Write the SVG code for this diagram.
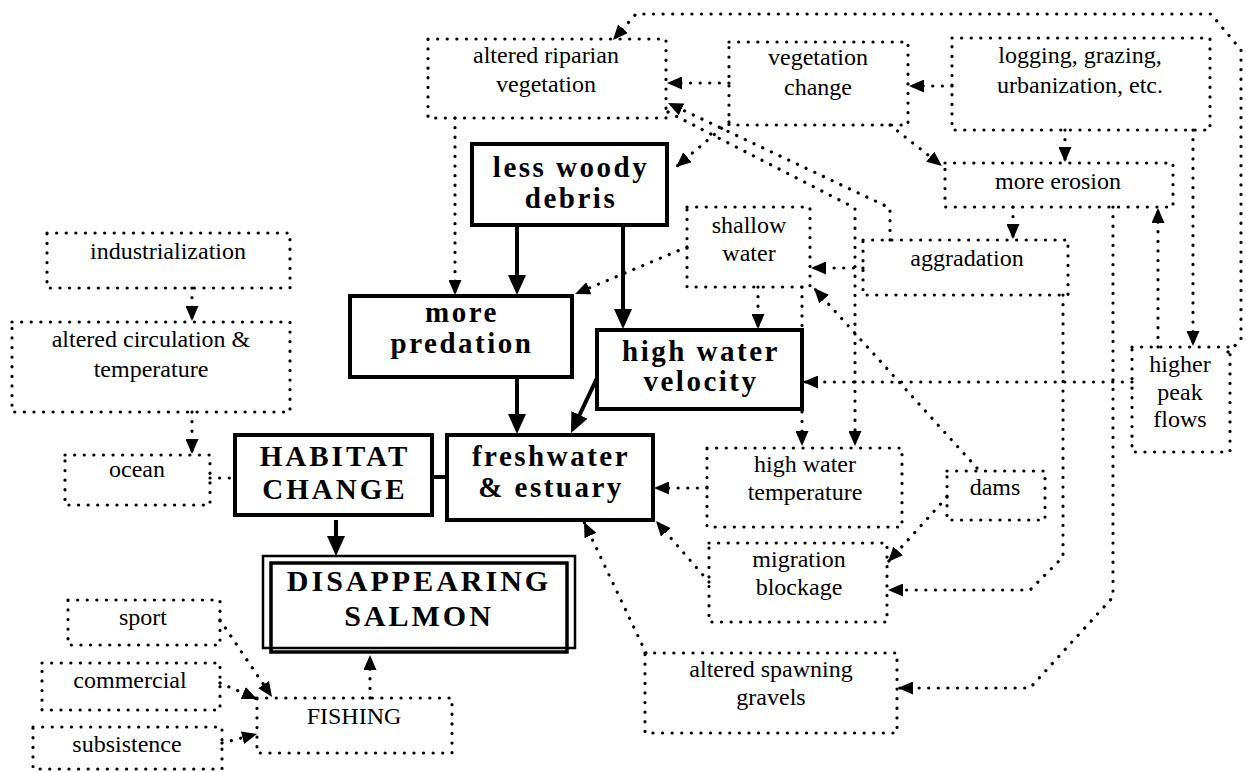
<svg xmlns="http://www.w3.org/2000/svg" width="1246" height="772" viewBox="0 0 1246 772">
<style>
.dot{fill:none;stroke:#000;stroke-width:3.2;stroke-linecap:round;stroke-dasharray:0.1 9.5;}
.sol{fill:none;stroke:#000;stroke-width:4;}
.t{font-family:"Liberation Serif",serif;font-size:24px;text-anchor:middle;fill:#000;}
.b{font-family:"Liberation Serif",serif;font-weight:bold;font-size:29px;letter-spacing:2.5px;text-anchor:middle;fill:#000;}
.B{font-family:"Liberation Serif",serif;font-weight:bold;font-size:29px;letter-spacing:3px;text-anchor:middle;fill:#000;}
.D{font-family:"Liberation Serif",serif;font-weight:bold;font-size:30px;letter-spacing:3px;text-anchor:middle;fill:#000;}
</style>
<defs>
<marker id="ad" markerWidth="15" markerHeight="13" refX="15" refY="6.5" orient="auto" markerUnits="userSpaceOnUse"><path d="M0,0 L15,6.5 L0,13 Z" fill="#000"/></marker>
<marker id="as" markerWidth="20" markerHeight="18" refX="16" refY="9" orient="auto" markerUnits="userSpaceOnUse"><path d="M0,0 L20,9 L0,18 Z" fill="#000"/></marker>
</defs>
<rect width="1246" height="772" fill="#fff"/>

<g id="connectors">
<path class="dot" d="M729,83 L667,83" marker-end="url(#ad)"/>
<path class="dot" d="M952,86 L909,86" marker-end="url(#ad)"/>
<path class="dot" d="M729,122 L676,167" marker-end="url(#ad)"/>
<path class="dot" d="M890,125 L942,166" marker-end="url(#ad)"/>
<path class="dot" d="M1065,130 L1065,162" marker-end="url(#ad)"/>
<path class="dot" d="M455,118 L455,295" marker-end="url(#ad)"/>
<path class="dot" d="M890,240 L890,208 L668,103" marker-end="url(#ad)"/>
<path class="dot" d="M668,112 L855,208 L855,446" marker-end="url(#ad)"/>
<path class="dot" d="M687,247 L575,294" marker-end="url(#ad)"/>
<path class="dot" d="M758,287 L758,329" marker-end="url(#ad)"/>
<path class="dot" d="M802,287 L802,446" marker-end="url(#ad)"/>
<path class="dot" d="M863,268 L811,268" marker-end="url(#ad)"/>
<path class="dot" d="M1013,207 L1013,239" marker-end="url(#ad)"/>
<path class="dot" d="M1158,347 L1158,208" marker-end="url(#ad)"/>
<path class="dot" d="M1193,130 L1193,346" marker-end="url(#ad)"/>
<path class="dot" d="M1132,382 L803,382" marker-end="url(#ad)"/>
<path class="dot" d="M1228,352 L1241,340 L1241,50 L1211,14 L636,14 L613,40" marker-end="url(#ad)"/>
<path class="dot" d="M977,468 L814,288" marker-end="url(#ad)"/>
<path class="dot" d="M947,497 L888,562" marker-end="url(#ad)"/>
<path class="dot" d="M1063,295 L1063,557 L1030,590 L888,590" marker-end="url(#ad)"/>
<path class="dot" d="M1113,207 L1113,597 L1030,688 L898,688" marker-end="url(#ad)"/>
<path class="dot" d="M707,488 L654,488" marker-end="url(#ad)"/>
<path class="dot" d="M709,582 L656,521" marker-end="url(#ad)"/>
<path class="dot" d="M646,653 L584,522" marker-end="url(#ad)"/>
<path class="dot" d="M192,288 L192,321" marker-end="url(#ad)"/>
<path class="dot" d="M192,412 L192,454" marker-end="url(#ad)"/>
<path class="dot" d="M210,478 L235,478"/>
<path class="dot" d="M220,620 L272,697" marker-end="url(#ad)"/>
<path class="dot" d="M220,683 L257,699" marker-end="url(#ad)"/>
<path class="dot" d="M222,743 L257,734" marker-end="url(#ad)"/>
<path class="dot" d="M370,698 L370,655" marker-end="url(#ad)"/>
<path class="sol" d="M432,477 L447,477"/>
<path class="sol" d="M336,520 L336,552" marker-end="url(#as)"/>
<path class="sol" d="M517,225 L517,291" marker-end="url(#as)"/>
<path class="sol" d="M623,225 L623,325" marker-end="url(#as)"/>
<path class="sol" d="M517,377 L517,430" marker-end="url(#as)"/>
<path class="sol" d="M597,378 L572.7,429.4" marker-end="url(#as)"/>
</g>

<g id="riparian"><rect class="dot" x="428" y="39" width="238" height="79"/><text class="t" x="546" y="63">altered riparian</text><text class="t" x="546" y="92">vegetation</text></g>
<g id="vegchange"><rect class="dot" x="729" y="42" width="179" height="83"/><text class="t" x="818" y="65">vegetation</text><text class="t" x="818" y="95">change</text></g>
<g id="logging"><rect class="dot" x="952" y="38" width="258" height="92"/><text class="t" x="1080" y="63">logging, grazing,</text><text class="t" x="1080" y="93">urbanization, etc.</text></g>
<g id="erosion"><rect class="dot" x="945" y="163" width="228" height="44"/><text class="t" x="1058" y="189">more erosion</text></g>
<g id="aggradation"><rect class="dot" x="863" y="240" width="205" height="55"/><text class="t" x="967" y="266">aggradation</text></g>
<g id="shallow"><rect class="dot" x="687" y="207" width="123" height="80"/><text class="t" x="749" y="233">shallow</text><text class="t" x="749" y="261">water</text></g>
<g id="lesswoody"><rect class="sol" x="472" y="144" width="195" height="81" fill="#fff"/><text class="b" x="571" y="177">less woody</text><text class="b" x="571" y="208">debris</text></g>
<g id="predation"><rect class="sol" x="350" y="296" width="222" height="81" fill="#fff"/><text class="b" x="462" y="322">more</text><text class="b" x="462" y="353">predation</text></g>
<g id="velocity"><rect class="sol" x="597" y="330" width="205" height="79" fill="#fff"/><text class="b" x="701" y="361">high water</text><text class="b" x="701" y="391">velocity</text></g>
<g id="industrialization"><rect class="dot" x="47" y="233" width="243" height="55"/><text class="t" x="168" y="259">industrialization</text></g>
<g id="altcirc"><rect class="dot" x="12" y="322" width="278" height="90"/><text class="t" x="151" y="347">altered circulation &amp;</text><text class="t" x="151" y="377">temperature</text></g>
<g id="ocean"><rect class="dot" x="65" y="455" width="145" height="50"/><text class="t" x="137" y="477">ocean</text></g>
<g id="habitat"><rect class="sol" x="235" y="435" width="197" height="80" fill="#fff"/><text class="B" x="335" y="466">HABITAT</text><text class="B" x="335" y="499">CHANGE</text></g>
<g id="freshwater"><rect class="sol" x="447" y="435" width="206" height="85" fill="#fff"/><text class="b" x="551" y="466">freshwater</text><text class="b" x="551" y="497">&amp; estuary</text></g>
<g id="hwtemp"><rect class="dot" x="707" y="448" width="195" height="79"/><text class="t" x="805" y="472">high water</text><text class="t" x="805" y="500">temperature</text></g>
<g id="dams"><rect class="dot" x="947" y="471" width="98" height="49"/><text class="t" x="995" y="495">dams</text></g>
<g id="migration"><rect class="dot" x="709" y="543" width="178" height="79"/><text class="t" x="799" y="567">migration</text><text class="t" x="799" y="595">blockage</text></g>
<g id="spawning"><rect class="dot" x="645" y="653" width="252" height="80"/><text class="t" x="771" y="677">altered spawning</text><text class="t" x="771" y="705">gravels</text></g>
<g id="peakflows"><rect class="dot" x="1132" y="347" width="98" height="105"/><text class="t" x="1180" y="372">higher</text><text class="t" x="1180" y="400">peak</text><text class="t" x="1180" y="427">flows</text></g>
<g id="disappearing"><rect x="263" y="556" width="312" height="92" fill="#fff" stroke="#000" stroke-width="2.5"/><rect x="271" y="563" width="296" height="89" fill="none" stroke="#000" stroke-width="3.5"/><text class="D" x="419" y="591">DISAPPEARING</text><text class="D" x="419" y="626">SALMON</text></g>
<g id="sport"><rect class="dot" x="68" y="600" width="152" height="45"/><text class="t" x="143" y="625">sport</text></g>
<g id="commercial"><rect class="dot" x="42" y="663" width="178" height="47"/><text class="t" x="130" y="688">commercial</text></g>
<g id="subsistence"><rect class="dot" x="33" y="727" width="189" height="42"/><text class="t" x="127" y="752">subsistence</text></g>
<g id="fishing"><rect class="dot" x="257" y="698" width="195" height="55"/><text class="t" x="354" y="724">FISHING</text></g>
</svg>
